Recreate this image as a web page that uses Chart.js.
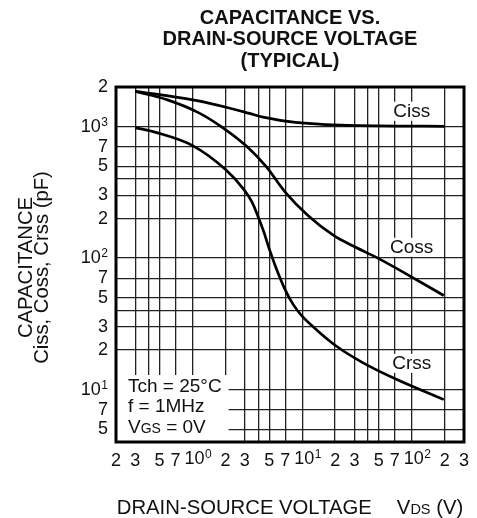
<!DOCTYPE html>
<html>
<head>
<meta charset="utf-8">
<script src="https://cdn.jsdelivr.net/npm/chart.js@4/dist/chart.umd.min.js"></script>
<style>
  body { margin: 0; background: #fff; }
</style>
</head>
<body>
<canvas id="capChart" width="477" height="518"></canvas>
<script>
// values (V, pF)
const cissV = [0.3, 0.58, 1.13, 2.2, 3.3, 4.4, 8.7, 17, 50, 200];
const cissC = [1850, 1720, 1570, 1380, 1260, 1180, 1075, 1035, 1012, 1005];

const cossV = [0.3, 0.58, 1.13, 1.88, 3.13, 4.7, 7.06, 11.3, 19.5, 29.5, 49, 94, 196];
const cossC = [1850, 1604, 1278, 983, 705, 496, 315, 211, 148, 123, 100, 74, 52];

const crssV = [0.3, 0.47, 1, 2, 2.94, 3.47, 4, 4.52, 5, 5.77, 7.06, 8.33, 9.9, 13.8, 20.9, 36, 70.7, 196];
const crssC = [983, 900, 717, 471, 332, 269, 203, 154, 118, 84.6, 56.6, 44.1, 36.5, 28.1, 21.2, 16, 12.1, 8.4];

const xTickValues = [0.2, 0.3, 0.4, 0.5, 0.7, 1, 2, 3, 4, 5, 7, 10, 20, 30, 40, 50, 70, 100, 200, 300];
const yTickValues = [4, 5, 7, 10, 20, 30, 40, 50, 70, 100, 200, 300, 400, 500, 700, 1000, 2000];

const curveLabels = [
  { text: 'Ciss', v: 100, c: 1320 },
  { text: 'Coss', v: 100, c: 122 },
  { text: 'Crss', v: 100, c: 16 }
];

const titleLines = ['CAPACITANCE VS.', 'DRAIN-SOURCE VOLTAGE', '(TYPICAL)'];
const FONT = "'Liberation Sans', Arial, Helvetica, sans-serif";
const TICK_FONT = '18px ' + FONT;
const EXP_FONT = '12px ' + FONT;

function decade(v) {
  const e = Math.floor(Math.log10(v) + 1e-9);
  return { e: e, m: Math.round(v / Math.pow(10, e)) };
}

// powers of ten are drawn by the plugin (10 + raised exponent)
function tickText(v) {
  const d = decade(v);
  if (d.m === 1 || d.m === 4) return '';
  return String(d.m);
}

function toPts(xs, ys) {
  return xs.map((x, i) => ({ x: x, y: ys[i] }));
}

const lineStyle = {
  borderColor: '#000',
  borderWidth: 2.7,
  pointRadius: 0,
  fill: false,
  cubicInterpolationMode: 'monotone'
};

function drawMixed(ctx, parts, x, y) {
  let cx = x;
  ctx.textAlign = 'left';
  parts.forEach(p => {
    ctx.font = p.font;
    ctx.fillText(p.t, cx, y);
    cx += ctx.measureText(p.t).width;
  });
  return cx - x;
}

const decor = {
  id: 'decor',
  afterDatasetsDraw(chart) {
    const ctx = chart.ctx;
    const a = chart.chartArea;
    const xs = chart.scales.x, ys = chart.scales.y;
    ctx.save();
    ctx.textBaseline = 'middle';
    ctx.textAlign = 'center';
    ctx.font = '19px ' + FONT;
    curveLabels.forEach(l => {
      const px = xs.getPixelForValue(l.v);
      const py = ys.getPixelForValue(l.c);
      const w = ctx.measureText(l.text).width;
      ctx.fillStyle = '#fff';
      ctx.fillRect(px - w / 2 - 5, py - 9, w + 10, 19);
      ctx.fillStyle = '#111';
      ctx.fillText(l.text, px, py + 1);
    });

    // test conditions, bottom-left
    const big = '19px ' + FONT, small = '14px ' + FONT;
    ctx.font = big;
    const tw = ctx.measureText('Tch = 25\u00b0C').width;
    ctx.fillStyle = '#fff';
    ctx.fillRect(a.left, a.bottom - 67, tw + 19, 67);
    ctx.fillStyle = '#111';
    ctx.textBaseline = 'alphabetic';
    ctx.textAlign = 'left';
    ctx.fillText('Tch = 25\u00b0C', a.left + 12, a.bottom - 50);
    ctx.fillText('f = 1MHz', a.left + 12, a.bottom - 30);
    drawMixed(ctx, [{ t: 'V', font: big }, { t: 'GS', font: small }, { t: ' = 0V', font: big }],
      a.left + 12, a.bottom - 9);

    // heavy frame
    ctx.strokeStyle = '#000';
    ctx.lineWidth = 3;
    ctx.strokeRect(a.left, a.top, a.right - a.left, a.bottom - a.top);
    ctx.restore();
  },
  afterDraw(chart) {
    const ctx = chart.ctx;
    const a = chart.chartArea;
    const xs = chart.scales.x, ys = chart.scales.y;
    const cx = (a.left + a.right) / 2;
    ctx.save();
    ctx.fillStyle = '#111';

    // decade labels with superscript exponent
    const sup = e => String(e);
    xTickValues.forEach(v => {
      const d = decade(v);
      if (d.m !== 1) return;
      const px = xs.getPixelForValue(v) + 2;
      ctx.font = TICK_FONT;
      const w = ctx.measureText('10').width;
      ctx.textBaseline = 'top';
      ctx.textAlign = 'center';
      ctx.fillText('10', px, xs.top + 8);
      ctx.font = EXP_FONT;
      ctx.textAlign = 'left';
      ctx.fillText(sup(d.e), px + w / 2 + 0.5, xs.top + 7);
    });
    yTickValues.forEach(v => {
      const d = decade(v);
      if (d.m !== 1) return;
      const py = ys.getPixelForValue(v);
      const right = ys.right - 8;
      ctx.font = EXP_FONT;
      const we = ctx.measureText(sup(d.e)).width;
      ctx.textAlign = 'right';
      ctx.textBaseline = 'alphabetic';
      ctx.fillText(sup(d.e), right, py - 1);
      ctx.font = TICK_FONT;
      ctx.textBaseline = 'middle';
      ctx.fillText('10', right - we - 0.5, py);
    });

    // chart title
    ctx.textAlign = 'center';
    ctx.textBaseline = 'alphabetic';
    ctx.font = 'bold 20px ' + FONT;
    titleLines.forEach((t, i) => ctx.fillText(t, cx, 23.5 + i * 21.5));

    // x axis title
    const big = '20.3px ' + FONT, small = '14.5px ' + FONT;
    ctx.font = big;
    const w1 = ctx.measureText('DRAIN-SOURCE VOLTAGE').width;
    const w3 = ctx.measureText('V (V)').width;
    ctx.font = small;
    const w2 = ctx.measureText('DS').width;
    const gap = 25;
    const x0 = cx - (w1 + gap + w2 + w3) / 2;
    ctx.font = big;
    ctx.textAlign = 'left';
    ctx.fillText('DRAIN-SOURCE VOLTAGE', x0, 514);
    drawMixed(ctx, [{ t: 'V', font: big }, { t: 'DS', font: small }, { t: ' (V)', font: big }],
      x0 + w1 + gap, 514);

    // y axis title
    const cy = (a.top + a.bottom) / 2;
    ctx.translate(0, cy + 3);
    ctx.rotate(-Math.PI / 2);
    ctx.textAlign = 'center';
    ctx.font = big;
    ctx.fillText('CAPACITANCE', 0, 32);
    ctx.fillText('Ciss, Coss, Crss (pF)', 0, 48);
    ctx.restore();
  }
};

new Chart('capChart', {
  type: 'line',
  data: {
    datasets: [
      Object.assign({ label: 'Ciss', data: toPts(cissV, cissC) }, lineStyle),
      Object.assign({ label: 'Coss', data: toPts(cossV, cossC) }, lineStyle),
      Object.assign({ label: 'Crss', data: toPts(crssV, crssC) }, lineStyle)
    ]
  },
  options: {
    responsive: false,
    animation: false,
    devicePixelRatio: 1,
    layout: { padding: { top: 87, right: 5, left: 0, bottom: 0 } },
    scales: {
      x: {
        type: 'logarithmic',
        min: 0.2,
        max: 300,
        afterBuildTicks: s => { s.ticks = xTickValues.map(v => ({ value: v })); },
        afterFit: s => { s.height = 76; },
        grid: { color: '#222', lineWidth: 1.3, drawTicks: false },
        border: { display: false },
        ticks: {
          autoSkip: false,
          maxRotation: 0,
          padding: 8,
          color: '#111',
          font: { size: 18, family: FONT },
          callback: v => tickText(v)
        }
      },
      y: {
        type: 'logarithmic',
        min: 4,
        max: 2000,
        afterBuildTicks: s => { s.ticks = yTickValues.map(v => ({ value: v })); },
        afterFit: s => { s.width = 116; },
        grid: { color: '#222', lineWidth: 1.3, drawTicks: false },
        border: { display: false },
        ticks: {
          autoSkip: false,
          padding: 8,
          color: '#111',
          font: { size: 18, family: FONT },
          callback: v => tickText(v)
        }
      }
    },
    plugins: {
      legend: { display: false },
      title: { display: false },
      tooltip: { enabled: false }
    }
  },
  plugins: [decor]
});
</script>
</body>
</html>
